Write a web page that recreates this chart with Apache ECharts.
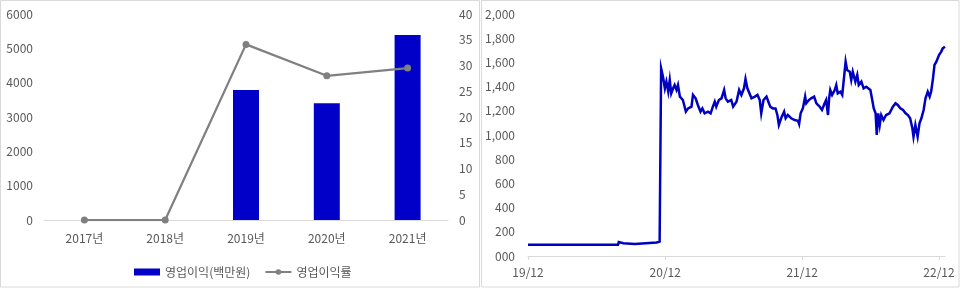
<!DOCTYPE html>
<html><head><meta charset="utf-8">
<script src="https://cdn.jsdelivr.net/npm/echarts@6/dist/echarts.min.js"></script>
<style>html,body{margin:0;padding:0;background:#fff}#c{width:960px;height:288px}</style>
</head><body><div id="c"></div>
<script>
// ---- Left chart data ----
const years = ['2017년', '2018년', '2019년', '2020년', '2021년'];
const operatingProfit = [null, null, 3790, 3400, 5390];      // 영업이익(백만원)
const operatingMargin = [0, 0, 34.1, 28.0, 29.5];            // 영업이익률
const profitTicks = ['0', '1000', '2000', '3000', '4000', '5000', '6000'];
const marginTicks = ['0', '5', '10', '15', '20', '25', '30', '35', '40'];

// ---- Right chart data (stock price) ----
const stockDates = [
  '2019-12-01','2020-07-28','2020-07-30','2020-08-11','2020-09-11','2020-09-16','2020-11-08','2020-11-16','2020-11-19',
  '2020-11-20','2020-11-25','2020-11-30','2020-12-04','2020-12-09','2020-12-13','2020-12-17','2020-12-22','2020-12-26','2020-12-31',
  '2021-01-04','2021-01-09','2021-01-17','2021-01-25','2021-01-31','2021-02-09','2021-02-13','2021-02-20','2021-02-26',
  '2021-03-05','2021-03-10','2021-03-16','2021-03-25','2021-04-01','2021-04-07','2021-04-12','2021-04-16','2021-04-23','2021-04-30',
  '2021-05-07','2021-05-11','2021-05-17','2021-05-26','2021-05-31','2021-06-09','2021-06-16','2021-06-22','2021-06-29',
  '2021-07-03','2021-07-08','2021-07-12','2021-07-19','2021-07-28','2021-08-04','2021-08-10','2021-08-14','2021-08-20','2021-08-28',
  '2021-09-02','2021-09-07','2021-09-14','2021-09-21','2021-09-26','2021-09-30','2021-10-06','2021-10-14','2021-10-18','2021-10-24',
  '2021-11-02','2021-11-11','2021-11-20','2021-11-23','2021-11-27','2021-12-03','2021-12-09','2021-12-12','2021-12-19','2021-12-25',
  '2022-01-02','2022-01-08','2022-01-17','2022-01-23','2022-01-30','2022-02-03','2022-02-08','2022-02-11','2022-02-14','2022-02-19','2022-02-26',
  '2022-03-02','2022-03-06','2022-03-13','2022-03-18','2022-03-22','2022-03-27','2022-03-31','2022-04-07','2022-04-11','2022-04-15','2022-04-22','2022-04-27',
  '2022-05-01','2022-05-08','2022-05-14','2022-05-21','2022-05-25','2022-06-01','2022-06-06','2022-06-10','2022-06-15','2022-06-18','2022-06-22','2022-06-26','2022-06-30',
  '2022-07-06','2022-07-13','2022-07-22','2022-07-31','2022-08-07','2022-08-13','2022-08-20','2022-08-27',
  '2022-09-03','2022-09-09','2022-09-15','2022-09-21','2022-09-24','2022-09-29','2022-10-05','2022-10-10','2022-10-15','2022-10-21','2022-10-26',
  '2022-11-01','2022-11-06','2022-11-10','2022-11-15','2022-11-19','2022-11-24','2022-12-01','2022-12-07','2022-12-11','2022-12-14','2022-12-17'
];
const stockPrices = [
  92, 92, 115, 105, 100, 110, 112, 120, 135,
  1551, 1482, 1386, 1441, 1358, 1455, 1344, 1386, 1413, 1372,
  1413, 1317, 1289, 1193, 1220, 1234, 1331, 1303, 1248,
  1193, 1220, 1179, 1193, 1179, 1234, 1275, 1234, 1289, 1303,
  1372, 1303, 1275, 1289, 1234, 1275, 1372, 1331, 1386,
  1463, 1386, 1372, 1303, 1317, 1331, 1289, 1179, 1289, 1317,
  1275, 1234, 1220, 1220, 1165, 1083, 1138, 1193, 1138, 1165,
  1138, 1124, 1118, 1091, 1179, 1220, 1317, 1262, 1289, 1303,
  1317, 1262, 1234, 1207, 1262, 1289, 1165, 1303, 1372, 1331, 1372,
  1413, 1344, 1358, 1331, 1344, 1606, 1537, 1523, 1455, 1523, 1441, 1496,
  1413, 1441, 1386, 1399, 1386, 1372, 1289, 1220, 1179, 1000, 1179, 1083, 1165,
  1124, 1165, 1179, 1234, 1262, 1248, 1220, 1207,
  1179, 1165, 1138, 1055, 986, 1083, 986, 1096, 1138, 1207, 1303,
  1358, 1317, 1358, 1468, 1579, 1606, 1661, 1689, 1716, 1702, 1730
];
const priceTicks = ['000', '200', '400', '600', '800', '1,000', '1,200', '1,400', '1,600', '1,800', '2,000'];
const dateTickDates = ['2019-12-01', '2020-12-01', '2021-12-01', '2022-12-01'];
const dateTickLabels = ['19/12', '20/12', '21/12', '22/12'];

// helpers
const base = Date.UTC(2019, 11, 1);
function dayOf(s) { const p = s.split('-').map(Number); return (Date.UTC(p[0], p[1] - 1, p[2]) - base) / 86400000; }
const stockData = stockDates.map((d, i) => [dayOf(d), stockPrices[i]]);
const tickDays = dateTickDates.map(dayOf);

const FONT = '"Noto Sans CJK KR", "Noto Sans", sans-serif';
const GRAY = '#595959';
const AXIS = '#d9d9d9';

const chart = echarts.init(document.getElementById('c'), null, { renderer: 'canvas' });
chart.setOption({
  animation: false,
  textStyle: { fontFamily: FONT },
  graphic: [
    { type: 'rect', shape: { x: 0.5, y: 0.5, width: 479, height: 286.5 }, style: { fill: null, stroke: AXIS, lineWidth: 1 }, silent: true },
    { type: 'rect', shape: { x: 481.5, y: 0.5, width: 477.5, height: 286.5 }, style: { fill: null, stroke: AXIS, lineWidth: 1 }, silent: true }
  ],
  legend: {
    data: [{ name: '영업이익(백만원)', icon: 'rect' }, { name: '영업이익률' }],
    left: 129, top: 261,
    itemWidth: 26, itemHeight: 7, itemGap: 14,
    textStyle: { fontFamily: FONT, fontSize: 12, color: GRAY, padding: [0, 0, 0, 0] }
  },
  grid: [
    { left: 44, top: 14, width: 404, height: 206 },
    { left: 528, top: 14, width: 417, height: 242 }
  ],
  xAxis: [
    {
      type: 'category', gridIndex: 0, data: years,
      axisLine: { lineStyle: { color: AXIS, width: 1 } },
      axisTick: { show: false },
      axisLabel: { color: GRAY, fontSize: 12, margin: 12, fontFamily: FONT }
    },
    {
      type: 'value', gridIndex: 1, min: 0, max: dayOf('2022-12-17'),
      splitLine: { show: false },
      axisLine: { onZero: false, lineStyle: { color: AXIS, width: 1 } },
      axisTick: { show: true, length: 4, customValues: tickDays, lineStyle: { color: AXIS } },
      axisLabel: {
        customValues: tickDays, color: GRAY, fontSize: 12, margin: 10, fontFamily: FONT,
        formatter: v => { const i = tickDays.indexOf(v); return i >= 0 ? dateTickLabels[i] : ''; }
      }
    }
  ],
  yAxis: [
    {
      type: 'value', gridIndex: 0, min: 0, max: 6000, interval: 1000,
      splitLine: { show: false }, axisLine: { show: false }, axisTick: { show: false },
      axisLabel: { color: GRAY, fontSize: 12, margin: 11, fontFamily: FONT, formatter: (v) => profitTicks[Math.round(v / 1000)] }
    },
    {
      type: 'value', gridIndex: 0, position: 'right', min: 0, max: 40, interval: 5,
      splitLine: { show: false }, axisLine: { show: false }, axisTick: { show: false },
      axisLabel: { color: GRAY, fontSize: 12, margin: 11, fontFamily: FONT, formatter: (v) => marginTicks[Math.round(v / 5)] }
    },
    {
      type: 'value', gridIndex: 1, min: 0, max: 2000, interval: 200,
      splitLine: { show: false }, axisLine: { show: false }, axisTick: { show: false },
      axisLabel: { color: GRAY, fontSize: 12, margin: 13, fontFamily: FONT, formatter: (v) => priceTicks[Math.round(v / 200)] }
    }
  ],
  series: [
    {
      name: '영업이익(백만원)', type: 'bar', xAxisIndex: 0, yAxisIndex: 0,
      data: operatingProfit, barWidth: 26, itemStyle: { color: '#0000c8' }
    },
    {
      name: '영업이익률', type: 'line', xAxisIndex: 0, yAxisIndex: 1,
      data: operatingMargin, symbol: 'circle', symbolSize: 7,
      lineStyle: { color: '#808080', width: 2.25 }, itemStyle: { color: '#808080' }
    },
    {
      name: '주가', type: 'line', xAxisIndex: 1, yAxisIndex: 2,
      data: stockData, showSymbol: false, symbol: 'none',
      lineStyle: { color: '#0000c0', width: 2.5, join: 'miter' }, itemStyle: { color: '#0000c0' }
    }
  ]
});
</script></body></html>
